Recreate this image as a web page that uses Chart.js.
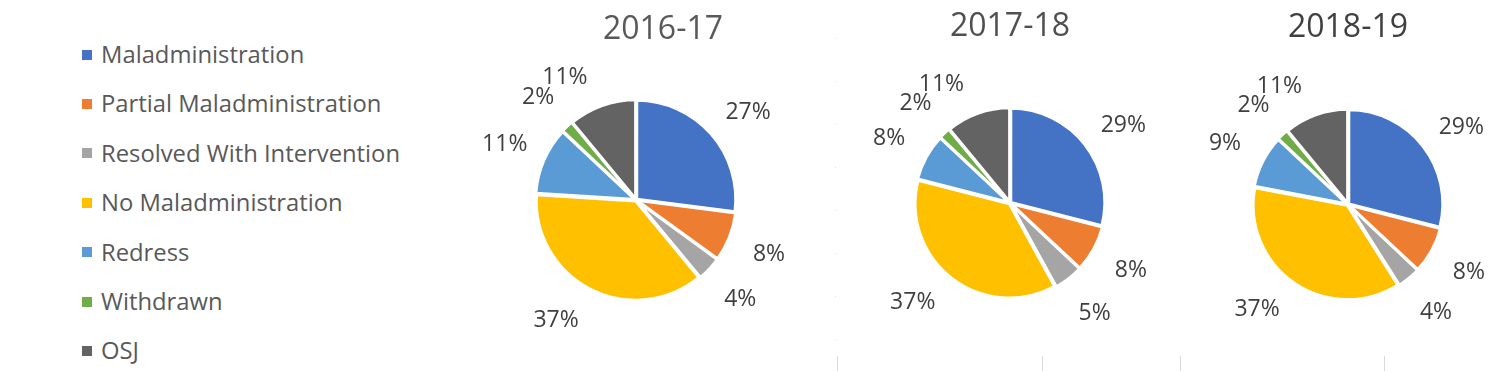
<!DOCTYPE html>
<html>
<head>
<meta charset="utf-8">
<script src="https://cdn.jsdelivr.net/npm/chart.js@4"></script>
<style>
  body { margin: 0; width: 1506px; height: 371px; overflow: hidden; background: #fff; font-family: "Open Sans", sans-serif; position: relative; }
  canvas { position: absolute; top: 0; }
  #legend { position: absolute; left: 82px; top: 30px; margin: 0; padding: 0; list-style: none; }
  #legend li { height: 49.4px; line-height: 49.4px; font-size: 23.8px; color: #595959; white-space: nowrap; }
  #legend span { display: inline-block; width: 10px; height: 10px; margin-right: 9px; vertical-align: middle; position: relative; top: -2px; }
  .tick { position: absolute; width: 1px; background: #d9d9d9; }
</style>
</head>
<body>
<ul id="legend"></ul>
<canvas id="pie1" width="320" height="371" style="left:476px"></canvas>
<canvas id="pie2" width="320" height="371" style="left:850px"></canvas>
<canvas id="pie3" width="320" height="371" style="left:1188px"></canvas>
<div class="tick" style="left:837px;top:356px;height:15px"></div>
<div class="tick" style="left:1042px;top:356px;height:15px"></div>
<div class="tick" style="left:1180px;top:356px;height:15px"></div>
<div class="tick" style="left:1384px;top:356px;height:15px"></div>
<div class="tick" style="left:835px;top:38px;height:306px;background:repeating-linear-gradient(#e0e0e0 0 1px, transparent 1px 43px)"></div>
<script>
// categories and colours
const categories = [
  "Maladministration",
  "Partial Maladministration",
  "Resolved With Intervention",
  "No Maladministration",
  "Redress",
  "Withdrawn",
  "OSJ"
];
const colours = ["#4472C4", "#ED7D31", "#A5A5A5", "#FFC000", "#5B9BD5", "#70AD47", "#636363"];

// yearly shares (%)
const years = ["2016-17", "2017-18", "2018-19"];
const share1617 = [27, 8, 4, 37, 11, 2, 11];
const share1718 = [29, 8, 5, 37, 8, 2, 11];
const share1819 = [29, 8, 4, 37, 9, 2, 11];

// legend
const legend = document.getElementById("legend");
categories.forEach((c, i) => {
  const li = document.createElement("li");
  li.innerHTML = '<span style="background:' + colours[i] + '"></span>' + c;
  legend.appendChild(li);
});

// small angle tweaks (degrees) so labels sit where Excel's best-fit put them
const labelTurn = [3, 0, 0, 7, 0, 0, -10];

// draws the title and the percentage labels outside the slices
const pieText = {
  id: "pieText",
  afterDatasetsDraw(chart, args, opts) {
    const ctx = chart.ctx;
    ctx.save();
    ctx.fillStyle = opts.titleColor;
    ctx.font = "32px 'Open Sans'";
    ctx.textAlign = "center";
    ctx.textBaseline = "alphabetic";
    ctx.fillText(opts.title, chart.chartArea.left + chart.chartArea.width / 2 + opts.titleShift, opts.titleY);

    ctx.fillStyle = "#404040";
    ctx.font = "23px 'Open Sans'";
    const values = chart.data.datasets[0].data;
    chart.getDatasetMeta(0).data.forEach((arc, i) => {
      const p = arc.getProps(["x", "y", "startAngle", "endAngle", "outerRadius"], true);
      const mid = (p.startAngle + p.endAngle) / 2 + labelTurn[i] * Math.PI / 180;
      const r = p.outerRadius + opts.gap;
      const x = p.x + Math.cos(mid) * r;
      const y = p.y + Math.sin(mid) * r;
      ctx.fillText(values[i] + "%", x, y + 8);
    });
    ctx.restore();
  }
};

function makePie(id, year, values, radius, padTop, titleShift, titleY, titleColor) {
  new Chart(document.getElementById(id), {
    type: "pie",
    data: {
      labels: categories,
      datasets: [{
        data: values,
        backgroundColor: colours,
        borderColor: "#fff",
        borderWidth: 3,
        offset: 4
      }]
    },
    options: {
      responsive: false,
      animation: false,
      radius: radius,
      layout: { padding: { top: padTop } },
      plugins: {
        legend: { display: false },
        tooltip: { enabled: false },
        pieText: { title: year, titleShift: titleShift, titleY: titleY, titleColor: titleColor, gap: 44 }
      }
    },
    plugins: [pieText]
  });
}

makePie("pie1", years[0], share1617, 99, 29, 27, 39, "#595959");
makePie("pie2", years[1], share1718, 94, 35, 0, 36, "#505050");
makePie("pie3", years[2], share1819, 94, 38, 0, 37, "#404040");
</script>
</body>
</html>
